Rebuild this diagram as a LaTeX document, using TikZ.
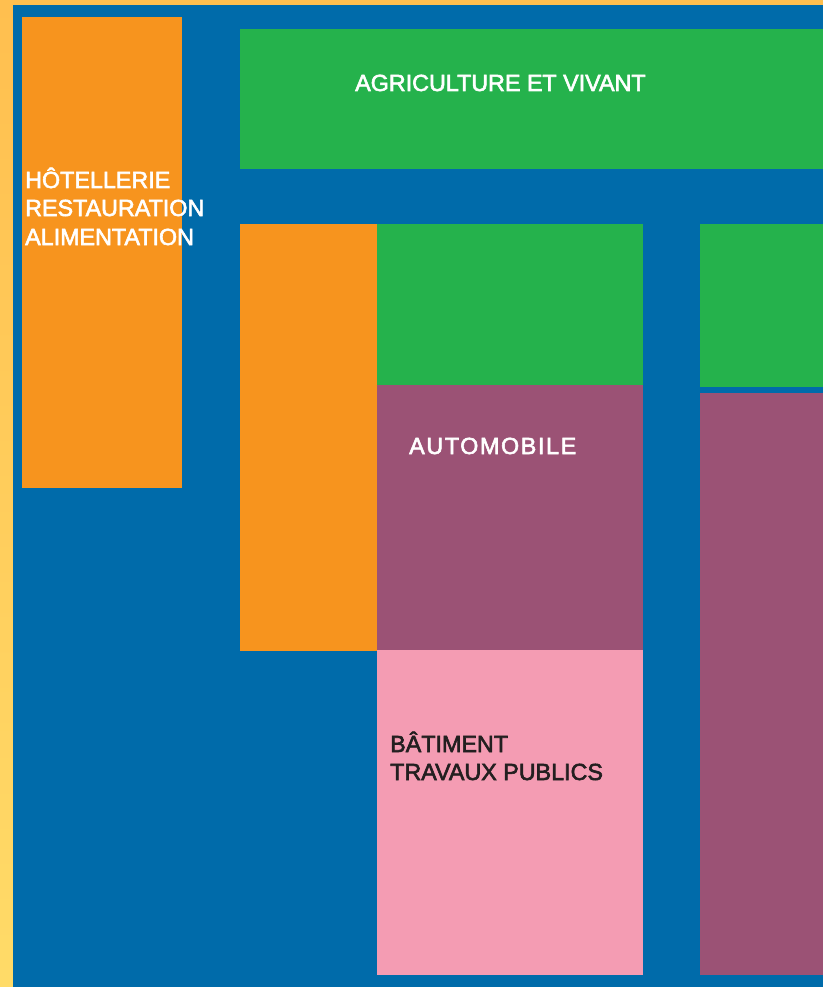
\documentclass[tikz,border=0pt]{standalone}
\usepackage{fontspec}
\setmainfont{Liberation Sans}
\newfontfamily\medfont{Liberation Sans}[FakeBold=2.5]
\newfontfamily\medspaced{Liberation Sans}[FakeBold=2.5,LetterSpace=7]
\definecolor{bgblue}{HTML}{006BAA}
\definecolor{sorange}{HTML}{F7941E}
\definecolor{sgreen}{HTML}{25B24C}
\definecolor{spurple}{HTML}{9B5275}
\definecolor{spink}{HTML}{F49CB3}
\definecolor{darktext}{HTML}{231F20}
\definecolor{stripA}{HTML}{FFBF4F}
\definecolor{stripB}{HTML}{FFDB68}
\begin{document}
\begin{tikzpicture}[x=1pt,y=-1pt,
  lbl/.style={font=\medfont\fontsize{23.3}{28}\selectfont,inner sep=0pt,anchor=base west,align=left},
  lblw/.style={lbl,text=white},
  lbld/.style={lbl,text=darktext}]
\useasboundingbox (0,0) rectangle (823,987);
% outer strips
\fill[stripA] (0,0) rectangle (823,5);
\shade[top color=stripA,bottom color=stripB] (0,0) rectangle (13,987);
% blue ground
\fill[bgblue] (13,5) rectangle (823,987);
% blocks
\fill[sorange] (22,17) rectangle (182,488);
\fill[sgreen] (240,29) rectangle (823,169);
\fill[sorange] (240,224) rectangle (377,651);
\fill[sgreen] (377,224) rectangle (643,385);
\fill[spurple] (377,385) rectangle (643,650);
\fill[spink] (377,650) rectangle (643,975);
\fill[sgreen] (700,224) rectangle (823,387);
\fill[spurple] (700,393) rectangle (823,975);
% labels
\node[lblw] (agri) at (355,91) {AGRICULTURE ET VIVANT};
\node[lblw] (hra1) at (25,188) {HÔTELLERIE};
\node[lblw] (hra2) at (25,216) {RESTAURATION};
\node[lblw] (hra3) at (25,245) {ALIMENTATION};
\node[lblw,font=\medspaced\fontsize{23.3}{28}\selectfont] (auto) at (409,454) {AUTOMOBILE};
\node[lbld] (btp1) at (390,752) {BÂTIMENT};
\node[lbld] (btp2) at (390,780) {TRAVAUX PUBLICS};
\end{tikzpicture}
\end{document}
